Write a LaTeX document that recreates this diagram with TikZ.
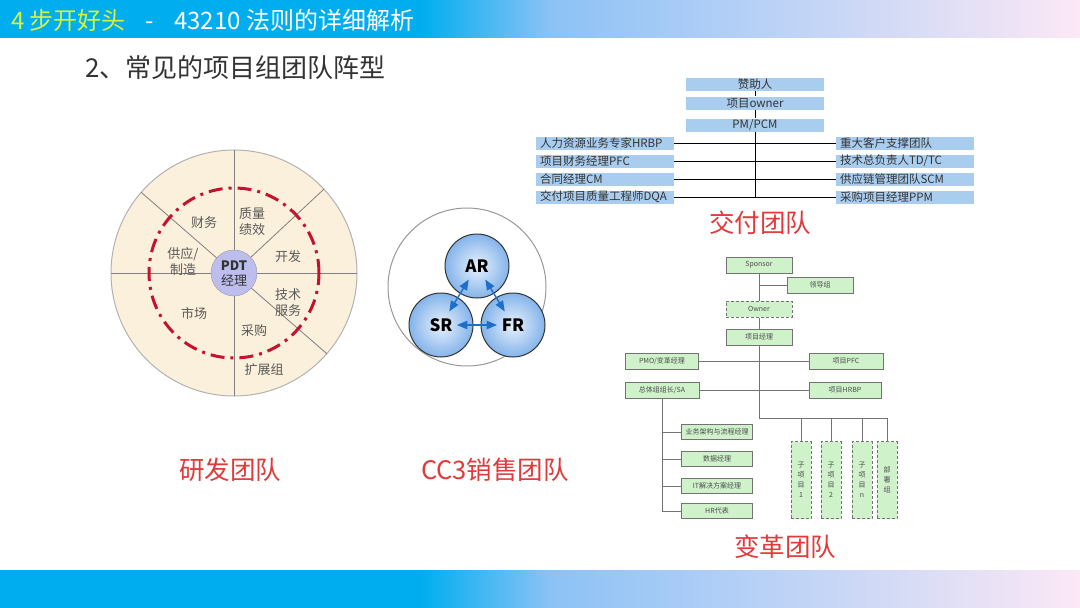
\documentclass[tikz,border=0pt]{standalone}
\usepackage{fontspec}
\setmainfont{Noto Sans CJK SC}
\usetikzlibrary{positioning}
\usetikzlibrary{arrows}

\definecolor{barblue}{HTML}{00AEEF}
\definecolor{barmid}{HTML}{8CC2F6}
\definecolor{barpink}{HTML}{FCE8F6}
\definecolor{headyellow}{HTML}{D6F23C}
\definecolor{teamred}{HTML}{E2393A}
\definecolor{wheelfill}{HTML}{FBF0DC}
\definecolor{wheeldash}{HTML}{C4122F}
\definecolor{pdtfill}{HTML}{BDBDEE}
\definecolor{boxblue}{HTML}{A9CDEF}
\definecolor{boxgreen}{HTML}{CFF2CB}
\definecolor{ringin}{HTML}{E8F1FD}
\definecolor{ringout}{HTML}{84B4EA}
\definecolor{arrowblue}{HTML}{1E6FCC}

% the path is mapped onto 25bp--75bp of the shading
\pgfdeclarehorizontalshading{barshade}{100bp}{color(0bp)=(barblue); color(44.5bp)=(barblue);
  color(50.5bp)=(barmid); color(75bp)=(barpink); color(100bp)=(barpink)}

\tikzset{
  teamlabel/.style={text=teamred, font=\fontsize{25.5}{26}\selectfont},
  sector/.style={text=black!65, font=\fontsize{13}{16}\selectfont, align=center},
  wheelline/.style={draw=black!50, line width=0.8pt},
  bluebox/.style={fill=boxblue, minimum width=138pt, minimum height=13pt, inner sep=0pt,
    font=\fontsize{11.5}{12}\selectfont, text=black!80},
  sidebox/.style={bluebox, text width=130pt, align=left},
  greenbox/.style={fill=boxgreen, draw=black!55, line width=1pt, minimum width=66pt,
    minimum height=16pt, inner sep=0pt, font=\fontsize{7}{7}\selectfont, text=black!70},
  dashbox/.style={greenbox, dash pattern=on 3pt off 2pt},
  subbox/.style={dashbox, minimum width=20pt, minimum height=77pt, text width=18pt, align=center,
    font=\fontsize{7}{10}\selectfont},
  ring/.style={circle, draw=black!80, line width=1pt, inner color=ringin, outer color=ringout,
    minimum size=64pt, inner sep=0pt, font=\bfseries\fontsize{17}{17}\selectfont},
  pair/.style={<->, >={triangle 45}, draw=arrowblue, line width=1.4pt},
  orgline/.style={draw=black!55, line width=1pt}
}

\begin{document}
\begin{tikzpicture}[x=1pt, y=-1pt]
  \useasboundingbox (0,0) rectangle (1080,608);

  % Bars
  \shade[shading=barshade] (0,0) rectangle (1080,37);
  \shade[shading=barshade] (0,570) rectangle (1080,608);

  % Titles
  \node[anchor=west, inner sep=0pt, text=white, font=\fontsize{24}{24}\selectfont] (head) at (11,20)
    {{\color{headyellow}4 步开好头}\hspace{20pt}-\hspace{20pt}43210 法则的详细解析};
  \node[anchor=west, inner sep=0pt, text=black!80, font=\fontsize{26}{26}\selectfont] (title) at (85,68)
    {2、常见的项目组团队阵型};

  % Wheel
  \coordinate (wc) at (234,273);
  \filldraw[fill=wheelfill, draw=black!30, line width=1pt] (wc) circle (123pt);
  \draw[wheelline] (wc) ++(-123pt,0) -- ++(246pt,0);
  \draw[wheelline] (wc) ++(0,-123pt) -- ++(0,246pt);
  \draw[wheelline] (wc) ++(139:123pt) -- ++(-41:246pt);
  \draw[wheelline] (wc) -- ++(43:123pt);
  \draw[wheeldash, line width=3pt, dash pattern=on 14pt off 6pt on 3pt off 6pt] (wc) circle (85pt);
  \node[circle, fill=pdtfill, draw=black!40, minimum size=46pt, inner sep=0pt, align=center,
    text=black!80, font=\fontsize{13}{15}\selectfont] (pdt) at (wc) {\textbf{PDT}\\经理};
  \node[sector] (fin) at (204,223) {财务};
  \node[sector] (qa) at (252,222) {质量\\绩效};
  \node[sector] (dev) at (288,257) {开发};
  \node[sector] (sup) at (183,261) {供应/\\制造};
  \node[sector] (tech) at (288,303) {技术\\服务};
  \node[sector] (mkt) at (194,313) {市场};
  \node[sector] (buy) at (254,331) {采购};
  \node[sector] (ext) at (264,370) {扩展组};
  \node[teamlabel] (rdteam) at (230,470) {研发团队};

  % CC3
  \filldraw[fill=white, draw=black!40, line width=1pt] (467,287) circle (79pt);
  \node[ring] (ar) at (477,266) {AR};
  \node[ring] (sr) at (441,325) {SR};
  \node[ring] (fr) at (513,325) {FR};
  \draw[pair, shorten <=16pt, shorten >=16pt] (ar.center) -- (sr.center);
  \draw[pair, shorten <=16pt, shorten >=16pt] (ar.center) -- (fr.center);
  \draw[pair, shorten <=16pt, shorten >=16pt] (sr.center) -- (fr.center);
  \node[teamlabel] (cc3team) at (495,470) {CC3销售团队};

  % Delivery team
  \node[bluebox] (sponsor) at (755,84) {赞助人};
  \node[bluebox] (owner) at (755,103) {项目owner};
  \node[bluebox] (pm) at (755,125) {PM/PCM};
  \node[sidebox] (hrbp) at (605,143) {人力资源业务专家HRBP};
  \node[sidebox] (pfc) at (605,161) {项目财务经理PFC};
  \node[sidebox] (cm) at (605,179) {合同经理CM};
  \node[sidebox] (dqa) at (605,197) {交付项目质量工程师DQA};
  \node[sidebox] (key) at (905,143) {重大客户支撑团队};
  \node[sidebox] (td) at (905,161) {技术总负责人TD/TC};
  \node[sidebox] (scm) at (905,179) {供应链管理团队SCM};
  \node[sidebox] (ppm) at (905,197) {采购项目经理PPM};
  \coordinate (trunk) at (755,197);
  \draw (sponsor) -- (owner);
  \draw (owner) -- (pm);
  \draw (pm) -- (trunk);
  \draw (hrbp) -- (key);
  \draw (pfc) -- (td);
  \draw (cm) -- (scm);
  \draw (dqa) -- (ppm);
  \node[teamlabel] (dlvteam) at (760,223) {交付团队};

  % Change team
  \node[greenbox] (csponsor) at (759,265) {Sponsor};
  \node[greenbox] (lead) at (820,285) {领导组};
  \node[dashbox] (cowner) at (759,309) {Owner};
  \node[greenbox] (cpm) at (759,337) {项目经理};
  \node[greenbox, minimum width=73pt] (pmo) at (662,361) {PMO/变革经理};
  \node[greenbox, minimum width=74pt] (cpfc) at (846,361) {项目PFC};
  \node[greenbox, minimum width=74pt] (sa) at (662,390) {总体组组长/SA};
  \node[greenbox, minimum width=72pt] (chrbp) at (845,390) {项目HRBP};
  \node[greenbox, minimum width=71pt, minimum height=15pt] (biz) at (717,432) {业务架构与流程经理};
  \node[greenbox, minimum width=71pt, minimum height=15pt] (data) at (717,459) {数据经理};
  \node[greenbox, minimum width=71pt, minimum height=15pt] (itm) at (717,486) {IT解决方案经理};
  \node[greenbox, minimum width=71pt, minimum height=15pt] (hrrep) at (717,511) {HR代表};
  \node[subbox] (sub1) at (801,480) {子\\项\\目\\1};
  \node[subbox] (sub2) at (831,480) {子\\项\\目\\2};
  \node[subbox] (subn) at (862,480) {子\\项\\目\\n};
  \node[subbox] (dept) at (887,480) {部\\署\\组};
  \coordinate (bus) at (759,418);
  \draw[orgline] (csponsor) -- (cowner);
  \draw[orgline] (cowner) -- (cpm);
  \draw[orgline] (cpm) -- (bus) -| (dept);
  \draw[orgline] (lead.west) -- (lead.west -| csponsor.south);
  \draw[orgline] (pmo) -- (cpfc);
  \draw[orgline] (sa) -- (chrbp);
  \foreach \s in {sub1, sub2, subn}
    \draw[orgline] (\s.north) -- (\s.north |- bus);
  \draw[orgline] (sa.south) -- (sa.south |- hrrep) -- (hrrep.west);
  \foreach \s in {biz, data, itm}
    \draw[orgline] (\s.west) -- (\s.west -| sa.south);
  \node[teamlabel] (chgteam) at (785,547) {变革团队};

\end{tikzpicture}
\end{document}
